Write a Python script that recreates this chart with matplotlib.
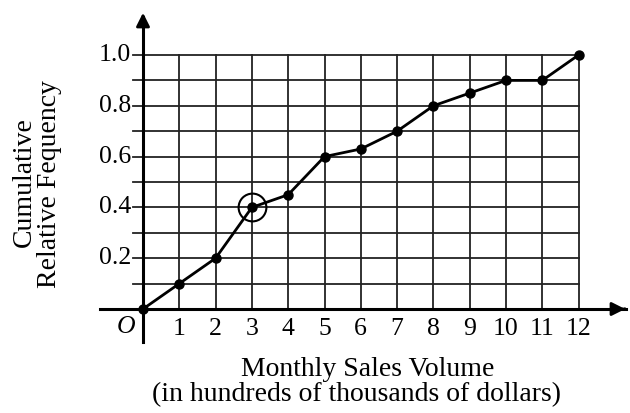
import matplotlib.pyplot as plt
import numpy as np

volume = [0, 1, 2, 3, 4, 5, 6, 7, 8, 9, 10, 11, 12]
cum_freq = [0, 0.1, 0.2, 0.4, 0.45, 0.6, 0.63, 0.7, 0.8, 0.85, 0.9, 0.9, 1.0]
x_ticks = list(range(1, 13))
y_ticks = [0.2, 0.4, 0.6, 0.8, 1.0]
y_labels = ['0.2', '0.4', '0.6', '0.8', '1.0']

plt.rcParams['font.family'] = ['Liberation Serif', 'DejaVu Serif']
fs = 18.5
lfs = 20

fig = plt.figure(figsize=[6.3, 4.13], dpi=100)
ax = fig.add_axes([0, 0, 1, 1])
# pixel geometry: origin at (143, 309), 36.3 px per unit x, 254 px per unit y
sx, sy = 36.3, 254.0
ax.set_xlim(-143 / sx, (630 - 143) / sx)
ax.set_ylim(-(413 - 309) / sy, 309 / sy)
ax.axis('off')

# grid
for x in x_ticks:
    ax.plot([x, x], [0, 1.0], color='#222222', lw=1.3, zorder=1)
for y in np.arange(1, 11) / 10:
    ax.plot([-10 / sx, 12], [y, y], color='#222222', lw=1.3, zorder=1)

# axes with arrows
ax.plot([-43 / sx, 13.3], [0, 0], color='black', lw=2.2, zorder=2)
ax.plot([0, 0], [-33 / sy, 1.15], color='black', lw=2.2, zorder=2)
ax.annotate('', xy=(628 / sx - 143 / sx, 0), xytext=(13.2, 0),
            arrowprops=dict(arrowstyle='-|>', color='black', lw=2, mutation_scale=20))
ax.annotate('', xy=(0, (309 - 10) / sy), xytext=(0, 1.12),
            arrowprops=dict(arrowstyle='-|>', color='black', lw=2, mutation_scale=20))

# data
ax.plot(volume, cum_freq, color='black', lw=2, marker='o', ms=6.5, zorder=3)
ax.plot([3], [0.4], marker='o', ms=20, mfc='none', mec='black', mew=1.5, zorder=3)

# tick labels
for x in x_ticks:
    ax.text(x, -20 / sy, str(x), ha='center', va='center', fontsize=fs)
for y, lab in zip(y_ticks, y_labels):
    ax.text(-12 / sx, y, lab, ha='right', va='center', fontsize=fs)
ax.text(-17 / sx, -18 / sy, 'O', ha='center', va='center', fontsize=fs, style='italic')

# axis labels
ax.text((368 - 143) / sx, -(369 - 309) / sy, 'Monthly Sales Volume',
        ha='center', va='center', fontsize=lfs)
ax.text((356 - 143) / sx, -(395 - 309) / sy, '(in hundreds of thousands of dollars)',
        ha='center', va='center', fontsize=lfs)
ax.text(-(143 - 24) / sx, (309 - 182) / sy, 'Cumulative',
        ha='center', va='center', fontsize=lfs, rotation=90)
ax.text(-(143 - 50) / sx, (309 - 184) / sy, 'Relative Fequency',
        ha='center', va='center', fontsize=lfs, rotation=90)

fig.savefig('out.png', dpi=100)
